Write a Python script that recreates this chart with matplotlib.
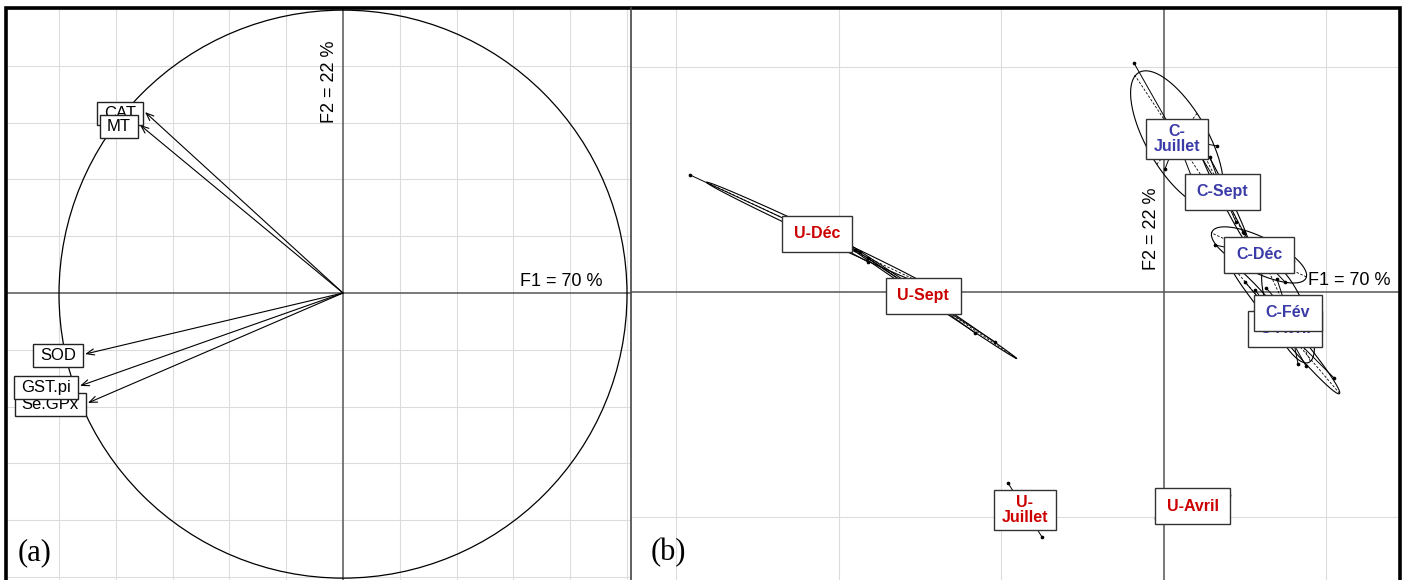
import numpy as np
import matplotlib
matplotlib.use("Agg")
import matplotlib.pyplot as plt
from matplotlib.patches import Circle, Rectangle
from matplotlib.lines import Line2D
from matplotlib.path import Path

plt.rcParams['font.family'] = ['Liberation Sans', 'DejaVu Sans']

# ---------------- Panel (a): correlation circle ----------------
variables = ['CAT', 'MT', 'SOD', 'Se.GPx', 'GST.pi']
var_f1 = [-0.697, -0.715, -0.908, -0.898, -0.926]
var_f2 = [0.637, 0.592, -0.215, -0.387, -0.327]
axis1_label = 'F1 = 70 %'
axis2_label = 'F2 = 22 %'

# ---------------- Panel (b): group scores ----------------
u_dec_f1 = [-2.914, -1.929, -1.868, -1.818]
u_dec_f2 = [0.520, 0.200, 0.178, 0.133]
u_sept_f1 = [-1.898, -1.818, -1.160, -1.037]
u_sept_f2 = [0.187, 0.151, -0.182, -0.222]
u_juil_f1 = [-0.957, -0.748]
u_juil_f2 = [-0.849, -1.089]
u_avr_f1 = [0.403, -0.046]
u_avr_f2 = [-0.902, -1.004]
c_juil_f1 = [-0.182, 0.329, 0.175, 0.009]
c_juil_f2 = [1.018, 0.649, 0.507, 0.547]
c_sept_f1 = [0.225, 0.286, 0.495, 0.446]
c_sept_f2 = [0.609, 0.600, 0.262, 0.311]
c_dec_f1 = [0.317, 0.489, 0.748, 0.797]
c_dec_f2 = [0.209, 0.267, 0.044, 0.138]
c_avr_f1 = [0.563, 0.502, 0.877, 1.049]
c_avr_f2 = [0.009, 0.044, -0.329, -0.382]
c_fev_f1 = [0.631, 0.698, 0.828, 0.908]
c_fev_f2 = [0.018, 0.058, -0.320, -0.129]

group_names = ['U-Déc', 'U-Sept', 'U-\nJuillet', 'U-Avril',
               'C-\nJuillet', 'C-Sept', 'C-Déc', 'C-Avril', 'C-Fév']
group_f1 = [u_dec_f1, u_sept_f1, u_juil_f1, u_avr_f1,
            c_juil_f1, c_sept_f1, c_dec_f1, c_avr_f1, c_fev_f1]
group_f2 = [u_dec_f2, u_sept_f2, u_juil_f2, u_avr_f2,
            c_juil_f2, c_sept_f2, c_dec_f2, c_avr_f2, c_fev_f2]

RED = '#cc0000'
BLUE = '#3b3ba8'
GRID = '#dcdcdc'
AXC = '#555555'


def make_box(padx, pady):
    def box(x0, y0, width, height, mutation_size):
        px = padx * mutation_size
        py = pady * mutation_size
        xa, ya = x0 - px, y0 - py
        xb, yb = x0 + width + px, y0 + height + py
        return Path([(xa, ya), (xb, ya), (xb, yb), (xa, yb), (xa, ya)], closed=True)
    return box


W, H = 1407, 580
fig = plt.figure(figsize=(W / 100, H / 100), dpi=100)


def fx(px):
    return px / W


def fy(py):
    return 1 - py / H


top_px, bot_px = 8, 586
axA = fig.add_axes([fx(6), fy(bot_px), fx(631) - fx(6), fy(top_px) - fy(bot_px)])
axB = fig.add_axes([fx(631), fy(bot_px), fx(1400) - fx(631), fy(top_px) - fy(bot_px)])

# ---------- Panel (a) ----------
axA.set_xlim(-1.1866, 1.0141)
axA.set_ylim(-1.0317, 1.0035)
for v in np.arange(-1.2, 1.01, 0.2):
    if abs(v) > 1e-6:
        axA.axvline(v, color=GRID, lw=0.8, zorder=0)
        axA.axhline(v, color=GRID, lw=0.8, zorder=0)
axA.axvline(0, color=AXC, lw=1.1, zorder=1)
axA.axhline(0, color=AXC, lw=1.1, zorder=1)
axA.add_patch(Circle((0, -0.004), 1.0, fill=False, ec='black', lw=0.9, zorder=2))

for i, (name, x, y) in enumerate(zip(variables, var_f1, var_f2)):
    axA.annotate('', xy=(x, y), xytext=(0, 0),
                 arrowprops=dict(arrowstyle='->,head_length=0.55,head_width=0.22',
                                 lw=0.8, color='black', shrinkA=0, shrinkB=0),
                 zorder=3)
    axA.annotate(name, xy=(x, y), xytext=(-6.5, -1), textcoords='offset points',
                 ha='right', va='center', fontsize=12, color='black',
                 bbox=dict(boxstyle=make_box(0.42, 0.24), fc='white',
                           ec='#222222', lw=1.0),
                 zorder=4 + i)

axA.text(0.915, 0.012, axis1_label, ha='right', va='bottom', fontsize=13, zorder=3)
axA.text(-0.018, 0.743, axis2_label, ha='right', va='center', rotation=90,
         fontsize=13, zorder=3)
axA.text(0.018, 0.058, '(a)', transform=axA.transAxes, ha='left', va='center',
         fontsize=22, family='Liberation Serif')

# ---------- Panel (b) ----------
axB.set_xlim(-3.277, 1.4554)
axB.set_ylim(-1.307, 1.262)
for v in [-3, -2, -1, 1]:
    axB.axvline(v, color=GRID, lw=0.8, zorder=0)
for v in [-1, 1]:
    axB.axhline(v, color=GRID, lw=0.8, zorder=0)
axB.axvline(0, color=AXC, lw=1.1, zorder=1)
axB.axhline(0, color=AXC, lw=1.1, zorder=1)

for i, (name, xs, ys) in enumerate(zip(group_names, group_f1, group_f2)):
    xs = np.asarray(xs, float)
    ys = np.asarray(ys, float)
    mx, my = xs.mean(), ys.mean()
    for x, y in zip(xs, ys):
        axB.plot([mx, x], [my, y], color='black', lw=0.7, zorder=2)
    axB.scatter(xs, ys, s=7, c='black', zorder=3, linewidths=0)
    if len(xs) > 2:
        cov = np.cov(np.vstack([xs, ys]), bias=True)
        vals, vecs = np.linalg.eigh(cov)
        vals = np.clip(vals, 0, None)
        t = np.linspace(0, 2 * np.pi, 300)
        a = 1.5 * np.sqrt(vals[1]) * vecs[:, 1]
        b = 1.5 * np.sqrt(vals[0]) * vecs[:, 0]
        ex = mx + a[0] * np.cos(t) + b[0] * np.sin(t)
        ey = my + a[1] * np.cos(t) + b[1] * np.sin(t)
        axB.plot(ex, ey, color='black', lw=0.8, zorder=2)
        for vec in (a, b):
            axB.plot([mx - vec[0], mx + vec[0]], [my - vec[1], my + vec[1]],
                     color='black', lw=0.6, ls=(0, (3, 2)), zorder=2)
    col = RED if name.startswith('U') else BLUE
    two = '\n' in name
    box = make_box(0.5, 0.3) if two else make_box(0.72, 0.66)
    axB.text(mx, my, name, ha='center', va='center', color=col,
             fontsize=11.5, fontweight='bold', linespacing=1.0,
             bbox=dict(boxstyle=box, fc='white', ec='#333333', lw=1.0),
             zorder=10 + i)

axB.text(1.394, 0.012, axis1_label, ha='right', va='bottom', fontsize=13, zorder=4)
axB.text(-0.02, 0.28, axis2_label, ha='right', va='center', rotation=90,
         fontsize=13, zorder=4)
axB.text(0.025, 0.058, '(b)', transform=axB.transAxes, ha='left', va='center',
         fontsize=22, family='Liberation Serif')

for ax in (axA, axB):
    ax.set_xticks([])
    ax.set_yticks([])
    for s in ax.spines.values():
        s.set_visible(False)

fig.add_artist(Line2D([fx(631), fx(631)], [fy(586), fy(8)], transform=fig.transFigure,
                      color='#444444', lw=1.2))
fig.add_artist(Rectangle((fx(6), -0.1), fx(1400) - fx(6), fy(8) + 0.1,
                         transform=fig.transFigure, fill=False, ec='black', lw=2.6))

fig.savefig('out.png', dpi=100, facecolor='white')
